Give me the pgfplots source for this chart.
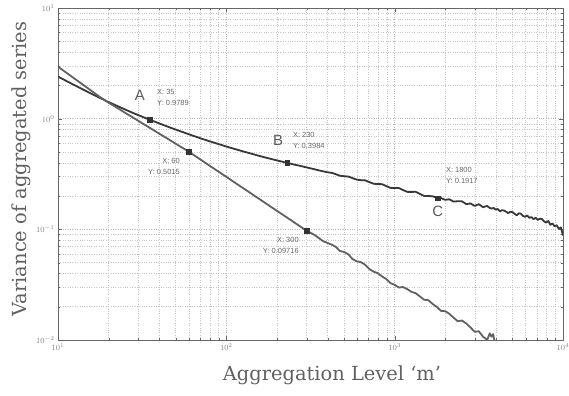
\documentclass[border=0pt]{standalone}
\usepackage{pgfplots}
\pgfplotsset{compat=1.18}
\usepackage{pgfplotstable}
\usepackage{fontspec}
\setmainfont{DejaVu Serif}
\setsansfont{Liberation Sans}

\pgfplotstableread{
x y
10 2.40
11.22 2.19
12.59 2.00
14.13 1.83
15.85 1.675
17.78 1.539
19.95 1.415
22.39 1.306
25.12 1.208
28.18 1.119
31.62 1.042
35 0.9789
39.81 0.908
44.67 0.849
50.12 0.796
56.23 0.748
63.10 0.703
70.79 0.662
79.43 0.625
89.13 0.592
100 0.560
112.2 0.532
125.9 0.506
141.3 0.482
158.5 0.459
177.8 0.4385
199.5 0.420
230 0.3984
251.2 0.386
281.8 0.371
316.2 0.356
354.8 0.341
398.1 0.328
421.7 0.3243
446.7 0.315
473.2 0.3048
501.2 0.302
530.9 0.2999
562.3 0.290
595.7 0.2812
631.0 0.278
668.3 0.2770
707.9 0.267
749.9 0.2582
794.3 0.2565
841.4 0.2559
891.3 0.246
944.1 0.2371
1000 0.236
1059 0.2360
1122 0.2265
1189 0.2181
1259 0.218
1334 0.2183
1413 0.209
1496 0.2004
1585 0.200
1679 0.1991
1800 0.1917
1884 0.1918
1995 0.1848
2113 0.1869
2239 0.1781
2371 0.1794
2512 0.1790
2661 0.1690
2818 0.1714
2985 0.1629
3162 0.1687
3350 0.1585
3450 0.1610
3548 0.1625
3650 0.1570
3758 0.1540
3870 0.1560
3981 0.1510
4100 0.1525
4217 0.1455
4340 0.1490
4467 0.1478
4600 0.1440
4732 0.1402
4870 0.1445
5012 0.1430
5160 0.1380
5309 0.1340
5460 0.1395
5623 0.1385
5790 0.1320
5957 0.1300
6130 0.1335
6310 0.1270
6490 0.1290
6683 0.1235
6880 0.1270
7079 0.1215
7290 0.1250
7499 0.1238
7720 0.1180
7943 0.1150
8180 0.1190
8414 0.1100
8660 0.1130
8913 0.1065
9170 0.1090
9441 0.1010
9720 0.1040
10000 0.0880
}\uptab

\pgfplotstableread{
x y
10 2.951
11.22 2.600
12.59 2.291
14.13 2.018
15.85 1.778
17.78 1.567
19.95 1.396
22.39 1.256
25.12 1.127
28.18 1.014
31.62 0.910
35.48 0.8185
39.81 0.7345
44.67 0.6607
50.12 0.593
56.23 0.5333
60 0.5015
63.10 0.4764
70.79 0.4236
79.43 0.3767
89.13 0.3350
100 0.2979
112.2 0.2649
125.9 0.2355
141.3 0.2094
158.5 0.1862
177.8 0.1656
199.5 0.1472
223.9 0.1309
251.2 0.1164
281.8 0.1035
300 0.09716
335.0 0.08878
375.8 0.07822
421.7 0.07283
447.0 0.06950
473.2 0.06372
500.0 0.06250
530.9 0.05948
562.0 0.05380
595.7 0.05143
630.0 0.05050
668.3 0.04788
710.0 0.04360
749.9 0.04143
795.0 0.04020
841.4 0.03752
890.0 0.03560
944.1 0.03268
1000 0.03150
1059 0.02981
1120 0.03010
1189 0.02880
1260 0.02720
1334 0.02644
1410 0.02480
1496 0.02313
1585 0.02290
1679 0.02120
1780 0.01990
1884 0.01834
2000 0.01820
2113 0.01723
2240 0.01590
2371 0.01477
2510 0.01500
2661 0.01411
2820 0.01300
2985 0.01187
3162 0.01199
3350 0.01070
3548 0.01005
3673 0.01148
3758 0.01072
3846 0.01132
3981 0.00871
}\lowtab

\pgfplotstableread{
x y
35 0.9789
230 0.3984
1800 0.1917
60 0.5015
300 0.09716
}\tiptab

\begin{document}
\begin{tikzpicture}
\begin{axis}[
  name=ax,
  scale only axis,
  width=505bp, height=332bp,
  xmode=log, ymode=log,
  xmin=10, xmax=10000, ymin=0.01, ymax=10,
  grid=both,
  minor grid style={dotted, black!22},
  major grid style={dotted, black!28},
  tick align=inside,
  major tick length=4bp, minor tick length=2.2bp,
  tick style={black!60},
  axis line style={black!60},
  ticklabel style={font=\fontsize{8.5}{9}\selectfont, text=black!50},
  xtick={10,100,1000,10000},
  ytick={0.01,0.1,1,10},
  xlabel={Aggregation Level ‘m’},
  ylabel={Variance of aggregated series},
  label style={font=\fontsize{19.5}{22}\selectfont, text=black!62},
  xlabel style={at={(axis description cs:0.5426,-0.1205)}, anchor=base},
  ylabel style={at={(axis description cs:-0.0614,0.515)}, anchor=base},
]
\addplot[black!78, line width=1.8bp, line join=round] table {\uptab};
\addplot[black!62, line width=1.8bp, line join=round] table {\lowtab};
\addplot[only marks, mark=square*, mark size=2.3bp, black!80] table {\tiptab};

\node[font=\sffamily\fontsize{15}{15}\selectfont, text=black!65] at (rel axis cs:0.162,0.738) {A};
\node[font=\sffamily\fontsize{15}{15}\selectfont, text=black!65] at (rel axis cs:0.436,0.602) {B};
\node[font=\sffamily\fontsize{15}{15}\selectfont, text=black!65] at (rel axis cs:0.752,0.386) {C};

\node[font=\sffamily\fontsize{7.5}{11.5}\selectfont, text=black!60, align=left, anchor=north west, inner sep=0pt]
  at (rel axis cs:0.196,0.756) {X: 35\\Y: 0.9789};
\node[font=\sffamily\fontsize{7.5}{11.5}\selectfont, text=black!60, align=left, anchor=north west, inner sep=0pt]
  at (rel axis cs:0.465,0.627) {X: 230\\Y: 0.3984};
\node[font=\sffamily\fontsize{7.5}{11.5}\selectfont, text=black!60, align=left, anchor=north west, inner sep=0pt]
  at (rel axis cs:0.768,0.521) {X: 1800\\Y: 0.1917};
\node[font=\sffamily\fontsize{7.5}{11.5}\selectfont, text=black!60, align=right, anchor=north east, inner sep=0pt]
  at (rel axis cs:0.2416,0.548) {X: 60\\Y: 0.5015};
\node[font=\sffamily\fontsize{7.5}{11.5}\selectfont, text=black!60, align=right, anchor=north east, inner sep=0pt]
  at (rel axis cs:0.477,0.310) {X: 300\\Y: 0.09716};
\end{axis}
\pgfresetboundingbox
\path[use as bounding box] ([xshift=-58bp,yshift=-56bp]ax.south west) rectangle ([xshift=6bp,yshift=8bp]ax.north east);
\end{tikzpicture}
\end{document}
